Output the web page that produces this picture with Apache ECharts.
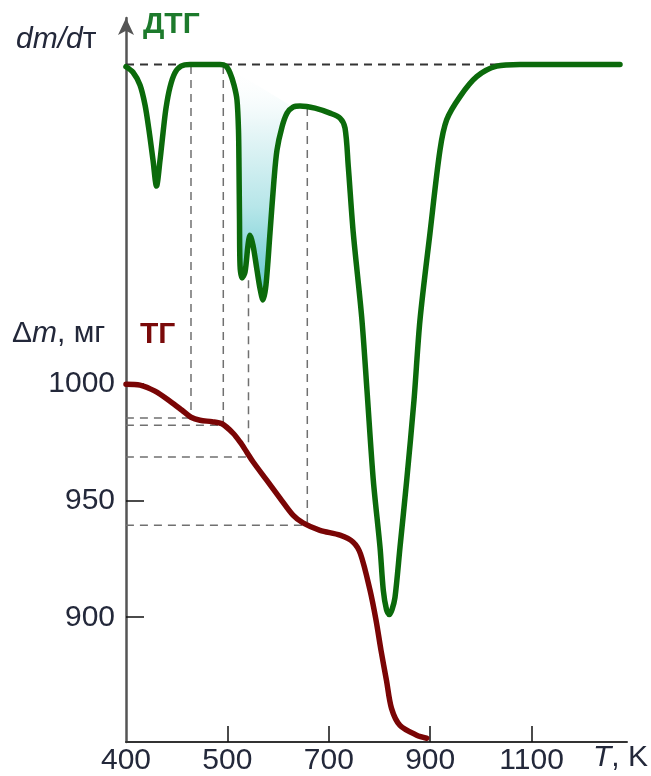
<!DOCTYPE html>
<html>
<head>
<meta charset="utf-8">
<script src="https://cdn.jsdelivr.net/npm/echarts@6/dist/echarts.min.js"></script>
<style>
  html, body { margin: 0; padding: 0; background: #fff; }
  #chart { width: 651px; height: 776px; }
</style>
</head>
<body>
<div id="chart"></div>
<script>
// Temperature axis: the reference labels its origin "400" and then steps 500, 700, 900, 1100
// at equal spacing; positions below are in axis units (origin = 300, step 200).
const tickPos = [300, 500, 700, 900, 1100];
const tickLabels = ['400', '500', '700', '900', '1100'];
const massTicks = [900, 950, 1000];

// DTG curve (dm/dτ, arbitrary units, 0 = baseline)
const dtgT = [300, 313.8, 327.6, 337.5, 345.4, 353.3, 360.2, 367.1, 373, 378.9, 386.8, 396.6, 408.5, 426.2, 446, 465.7, 485.4, 497.2, 505.1, 513, 518.9, 521.9, 522.9, 523.9, 524.9, 528.8, 534.7, 540.6, 544.6, 550.5, 558.4, 564.3, 570.2, 576.1, 584, 591.9, 597.8, 607.7, 617.6, 629.4, 643.2, 672.8, 702.4, 722.1, 732, 738.5, 748.3, 764.9, 775.3, 787.8, 801, 807.5, 813.8, 819.3, 824.7, 830.6, 840.5, 853.7, 868.1, 879.9, 899.6, 919.3, 932.5, 958.8, 991.7, 1031.2, 1077.1, 1274.4];
const dtgV = [-0.4, -1.4, -3.7, -7.3, -11.9, -17.3, -22.0, -17.3, -12.4, -7.9, -4.1, -1.5, -0.3, 0, 0, 0, 0, -0.3, -1.5, -3.7, -6.4, -11.9, -18.6, -28.2, -36.3, -38.6, -37.6, -32.7, -30.9, -32.7, -37.2, -40.5, -42.6, -39.9, -30.5, -20.9, -15.5, -11.3, -8.8, -7.7, -7.5, -7.9, -8.8, -9.7, -11.5, -18.5, -30.5, -45.7, -58.9, -75.2, -87.3, -95.1, -98.6, -99.5, -98.6, -96.4, -87.3, -75.2, -60.7, -46.2, -30.5, -15.5, -10.0, -5.8, -2.2, -0.3, 0, 0];

// TG curve (Δm, mg)
const tgT = [300, 327.6, 357.2, 386.8, 410.5, 428.2, 446, 469.6, 489.4, 511, 524.9, 538, 550.5, 577.5, 603.7, 629.4, 649.1, 682.6, 722.1, 747.7, 762.5, 781.3, 793.2, 803, 813.8, 823.7, 840.4, 873.4, 893.1];
const tgV = [1000, 999.6, 997, 992.7, 988.8, 985.8, 984.5, 983.9, 983, 979, 975.2, 970.9, 966.7, 958.8, 951.1, 943.8, 940.5, 937.3, 935.2, 932.3, 927.2, 911.6, 898.7, 885.8, 872.9, 860.9, 853.6, 849.4, 848.1];

// Guide lines
const vGuideT = [428.2, 491.9, 541.6, 657.6];
const vGuideTop = [1136.5, 1136.5, 1044.6, 1118.5];
const vGuideBottom = [985.5, 982.4, 972.5, 940.8];
const hGuideStartT = 217;
const hGuideEndT = [428.2, 491.9, 536.7, 649.1];
const hGuideMass = [985.5, 982.4, 968.8, 939.5];

// shaded overlapping-peak region (DTG range)
const fillFromT = 497, fillToT = 630;

const FONT = '"Liberation Sans", Arial, sans-serif';
const TXT = '#23283a';

const chart = echarts.init(document.getElementById('chart'), null, { renderer: 'canvas' });

const dtgData = dtgT.map((t, i) => [t, dtgV[i]]);
const tgData = tgT.map((t, i) => [t, tgV[i]]);
const fillData = dtgData.filter(p => p[0] >= fillFromT && p[0] <= fillToT);

const guideStyle = { color: '#707070', width: 1.5, type: [8, 6] };
const guideSeries = [];
vGuideT.forEach((t, i) => {
  guideSeries.push({
    type: 'line', yAxisIndex: 0, clip: false, silent: true, symbol: 'none', z: 1,
    data: [[t, vGuideTop[i]], [t, vGuideBottom[i]]],
    lineStyle: guideStyle
  });
});
hGuideMass.forEach((m, i) => {
  guideSeries.push({
    type: 'line', yAxisIndex: 0, clip: false, silent: true, symbol: 'none', z: 1,
    data: [[hGuideStartT, m], [hGuideEndT[i], m]],
    lineStyle: guideStyle
  });
});

const option = {
  animation: false,
  backgroundColor: '#ffffff',
  textStyle: { fontFamily: FONT },
  grid: { left: 126, right: 24, top: 18, bottom: 34, containLabel: false, outerBoundsMode: 'none' },
  xAxis: {
    type: 'value', min: 300, max: 1288.2,
    axisLine: { show: true, onZero: false, lineStyle: { color: '#333', width: 2 } },
    axisTick: { show: true, inside: true, length: 16, customValues: tickPos.slice(1), lineStyle: { color: '#111', width: 1.5 } },
    axisLabel: {
      customValues: tickPos, margin: 4, fontSize: 30, color: TXT, fontFamily: FONT,
      formatter: v => tickLabels[tickPos.indexOf(v)] || ''
    },
    splitLine: { show: false }
  },
  yAxis: [
    {
      type: 'value', min: 846.48, max: 1157.08,
      axisLine: { show: true, onZero: false, symbol: ['none', 'arrow'], symbolSize: [12, 17], lineStyle: { color: '#555', width: 2.5 } },
      axisTick: { show: true, inside: true, length: 18, customValues: massTicks, lineStyle: { color: '#111', width: 1.5 } },
      axisLabel: { customValues: massTicks, margin: 11, fontSize: 30, color: TXT, fontFamily: FONT, formatter: v => String(v) },
      splitLine: { show: false }
    },
    { type: 'value', min: -122.57, max: 8.417, show: false }
  ],
  series: [
    ...guideSeries,
    {
      type: 'line', yAxisIndex: 1, silent: true, symbol: 'none', z: 1,
      data: [[dtgT[0], 0], [dtgT[dtgT.length - 1], 0]],
      lineStyle: { color: '#333', width: 2, type: [8, 6] }
    },
    {
      type: 'custom', yAxisIndex: 1, silent: true, z: 2,
      data: fillData.map((p, i) => i),
      renderItem: function (params, api) {
        if (params.dataIndex !== 0) return null;
        const pts = fillData.map(p => api.coord(p));
        return {
          type: 'polygon',
          shape: { points: pts },
          style: {
            fill: new echarts.graphic.LinearGradient(0, 0, 0, 1, [
              { offset: 0, color: 'rgba(255,255,255,0)' },
              { offset: 0.25, color: '#eaf7f8' },
              { offset: 0.6, color: '#b7e6e9' },
              { offset: 1, color: '#5ec7cd' }
            ])
          }
        };
      }
    },
    {
      name: 'ТГ', type: 'line', yAxisIndex: 0, symbol: 'none', smooth: 0.3, z: 3,
      data: tgData,
      lineStyle: { color: '#7a0505', width: 5.5, cap: 'round', join: 'round' }
    },
    {
      name: 'ДТГ', type: 'line', yAxisIndex: 1, symbol: 'none', smooth: 0.3, z: 4,
      data: dtgData,
      lineStyle: { color: '#0b6a0b', width: 5.5, cap: 'round', join: 'round' }
    }
  ],
  graphic: [
    {
      type: 'text', left: 16, top: 25, z: 10,
      style: {
        text: '{i|dm/d}{n|т}',
        rich: {
          i: { fontSize: 30, fontStyle: 'italic', fontFamily: FONT, fill: TXT },
          n: { fontSize: 30, fontFamily: FONT, fill: TXT }
        }
      }
    },
    {
      type: 'text', left: 143, top: 10, z: 10,
      style: { text: 'ДТГ', fontSize: 30, fontWeight: 'bold', fontFamily: FONT, fill: '#1d7a2c' }
    },
    {
      type: 'text', left: 12, top: 319, z: 10,
      style: {
        text: '{n|Δ}{i|m}{n|, мг}',
        rich: {
          i: { fontSize: 30, fontStyle: 'italic', fontFamily: FONT, fill: TXT },
          n: { fontSize: 30, fontFamily: FONT, fill: TXT }
        }
      }
    },
    {
      type: 'text', left: 140, top: 320, z: 10,
      style: { text: 'ТГ', fontSize: 30, fontWeight: 'bold', fontFamily: FONT, fill: '#7a0a0a' }
    },
    {
      type: 'text', left: 593, top: 743, z: 10,
      style: {
        text: '{i|T}{n|, K}',
        rich: {
          i: { fontSize: 30, fontStyle: 'italic', fontFamily: FONT, fill: TXT },
          n: { fontSize: 30, fontFamily: FONT, fill: TXT }
        }
      }
    }
  ]
};

chart.setOption(option);
</script>
</body>
</html>
